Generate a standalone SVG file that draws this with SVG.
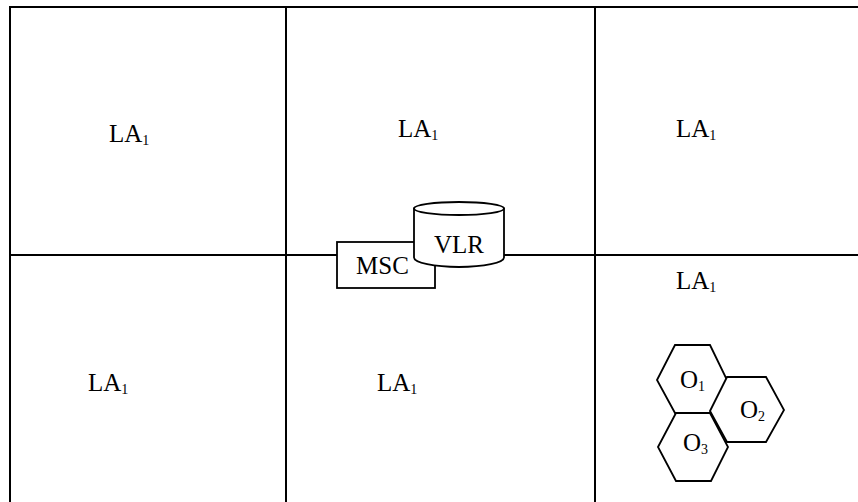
<svg xmlns="http://www.w3.org/2000/svg" width="858" height="502" viewBox="0 0 858 502">
  <style>
    .grid { stroke: #000; stroke-width: 2; fill: none; }
    .shape { stroke: #000; stroke-width: 1.8; fill: #fff; }
    .lbl { font-size: 25px; }
    .sub { font-size: 14px; }
  </style>
  <rect width="858" height="502" fill="#fff"/>

  <!-- location-area grid -->
  <g id="connectors">
    <line class="grid" x1="10" y1="7" x2="858" y2="7"/>
    <line class="grid" x1="10" y1="6" x2="10" y2="502"/>
    <line class="grid" x1="286" y1="7" x2="286" y2="502"/>
    <line class="grid" x1="595" y1="7" x2="595" y2="502"/>
    <line class="grid" x1="10" y1="255" x2="858" y2="255"/>
  </g>

  <g font-family="Liberation Serif, Times New Roman, serif" fill="#000">
    <!-- location area labels -->
    <g id="la-top-left"><text class="lbl" x="109" y="142">LA<tspan class="sub" dy="3">1</tspan></text></g>
    <g id="la-top-middle"><text class="lbl" x="398" y="137">LA<tspan class="sub" dy="3">1</tspan></text></g>
    <g id="la-top-right"><text class="lbl" x="676" y="137">LA<tspan class="sub" dy="3">1</tspan></text></g>
    <g id="la-bottom-left"><text class="lbl" x="88" y="391">LA<tspan class="sub" dy="3">1</tspan></text></g>
    <g id="la-bottom-middle"><text class="lbl" x="377" y="391">LA<tspan class="sub" dy="3">1</tspan></text></g>
    <g id="la-bottom-right"><text class="lbl" x="676" y="289">LA<tspan class="sub" dy="3">1</tspan></text></g>

    <!-- MSC box -->
    <g id="msc">
      <rect class="shape" x="337" y="242" width="98" height="46"/>
      <text class="lbl" x="356" y="274">MSC</text>
    </g>

    <!-- VLR database cylinder -->
    <g id="vlr">
      <path class="shape" d="M414,208.5 L414,257.5 A45,9.5 0 0 0 504,257.5 L504,208.5 Z"/>
      <ellipse class="shape" cx="459" cy="208.5" rx="45" ry="6.5"/>
      <text class="lbl" x="434" y="253">VLR</text>
    </g>

    <!-- cells -->
    <g id="cell-o1">
      <polygon class="shape" points="657,380 675,345 710,345 727,380 710,413 675,413"/>
      <text class="lbl" x="680" y="388">O<tspan class="sub" dy="3">1</tspan></text>
    </g>
    <g id="cell-o2">
      <polygon class="shape" points="710,411 727,377 766,377 784,410 766,442 727,442"/>
      <text class="lbl" x="740" y="418">O<tspan class="sub" dy="3">2</tspan></text>
    </g>
    <g id="cell-o3">
      <polygon class="shape" points="658,447 676,413 710,413 728,447 711,481 676,481"/>
      <text class="lbl" x="683" y="451">O<tspan class="sub" dy="3">3</tspan></text>
    </g>
  </g>
</svg>
